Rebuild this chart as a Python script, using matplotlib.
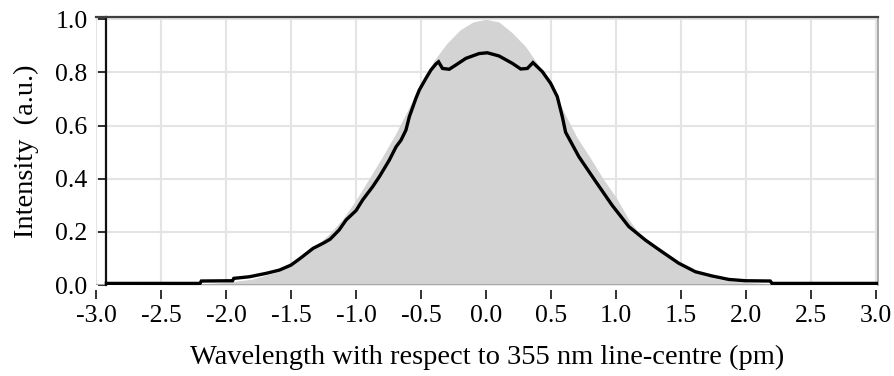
import matplotlib
matplotlib.use("Agg")
import matplotlib.pyplot as plt
from matplotlib.ticker import FixedLocator

# ---- data ----
measured_x = [-2.92, -2.2, -2.19, -1.95, -1.94, -1.82, -1.69, -1.59, -1.5, -1.43,
              -1.33, -1.25, -1.2, -1.13, -1.076, -1.0, -0.949, -0.872, -0.82, -0.744,
              -0.692, -0.654, -0.616, -0.59, -0.539, -0.513, -0.462, -0.424, -0.385,
              -0.365, -0.335, -0.283, -0.232, -0.155, -0.053, 0.01, 0.1, 0.203, 0.267,
              0.318, 0.361, 0.433, 0.497, 0.548, 0.587, 0.612, 0.714, 0.843, 0.97,
              1.098, 1.226, 1.354, 1.482, 1.61, 1.738, 1.866, 1.994, 2.186, 2.2, 3.015]
measured_y = [0.006, 0.006, 0.015, 0.016, 0.025, 0.031, 0.044, 0.056, 0.075, 0.10,
              0.138, 0.158, 0.172, 0.207, 0.245, 0.28, 0.32, 0.37, 0.408, 0.47,
              0.52, 0.545, 0.583, 0.633, 0.703, 0.734, 0.778, 0.809, 0.832,
              0.84, 0.815, 0.812, 0.828, 0.853, 0.871, 0.874, 0.862, 0.834, 0.813,
              0.815, 0.837, 0.803, 0.759, 0.709, 0.633, 0.575, 0.483, 0.39, 0.30,
              0.22, 0.169, 0.125, 0.082, 0.05, 0.034, 0.021, 0.016, 0.015, 0.006, 0.006]

model_x = [-2.92, -2.5, -2.2, -2.0, -1.8, -1.6, -1.5, -1.4, -1.3, -1.2, -1.1, -1.0,
           -0.9, -0.8, -0.7, -0.6, -0.5, -0.4, -0.3, -0.2, -0.1, 0.0,
           0.1, 0.2, 0.3, 0.4, 0.5, 0.6, 0.7, 0.8, 0.9, 1.0, 1.1, 1.2, 1.3, 1.4,
           1.5, 1.6, 1.8, 2.0, 2.2, 2.5, 3.015]
model_y = [0.0, 0.001, 0.004, 0.01, 0.022, 0.05, 0.075, 0.11, 0.15, 0.195, 0.25, 0.32,
           0.40, 0.48, 0.565, 0.66, 0.76, 0.845, 0.91, 0.96, 0.99, 1.0,
           0.99, 0.95, 0.9, 0.83, 0.755, 0.65, 0.555, 0.48, 0.40, 0.33, 0.245, 0.18,
           0.14, 0.105, 0.072, 0.048, 0.021, 0.01, 0.004, 0.001, 0.0]

x_ticks = [-3.0, -2.5, -2.0, -1.5, -1.0, -0.5, 0.0, 0.5, 1.0, 1.5, 2.0, 2.5, 3.0]
y_ticks = [0.0, 0.2, 0.4, 0.6, 0.8, 1.0]
x_label = "Wavelength with respect to 355 nm line-centre (pm)"
y_label = "Intensity  (a.u.)"

# ---- figure ----
plt.rcParams['font.family'] = ['Liberation Serif', 'DejaVu Serif']
W, H = 895, 376
fig = plt.figure(figsize=(W / 100, H / 100), dpi=100)
ax = fig.add_axes([96 / W, (H - 285) / H, (878 - 96) / W, (285 - 17.3) / H])

ax.fill_between(model_x, 0, model_y, color='#d3d3d3', lw=0, zorder=2)
ax.plot(measured_x, measured_y, color='black', lw=2.4, zorder=4,
        solid_joinstyle='miter')

ax.set_xlim(-3.0, 3.015)
ax.set_ylim(0.0, 1.0075)

ax.xaxis.set_major_locator(FixedLocator(x_ticks))
ax.yaxis.set_major_locator(FixedLocator(y_ticks))
ax.set_xticklabels([f"{v:.1f}" for v in x_ticks])
ax.set_yticklabels([f"{v:.1f}" for v in y_ticks])

ax.grid(True, color='#e4e4e4', lw=1.5, zorder=0)
ax.set_axisbelow(True)
fig.canvas.draw()
for t in ax.xaxis.get_major_ticks():
    if abs(t.get_loc() + 3.0) < 1e-9:
        t.gridline.set_visible(False)

ax.axhline(0.0, color='#a8a8a8', lw=1.5, zorder=3)

ax.spines['left'].set_position(('data', -2.926))
ax.spines['left'].set_color('#111111')
ax.spines['left'].set_linewidth(1.6)
ax.spines['top'].set_color('#404040')
ax.spines['top'].set_linewidth(1.6)
ax.spines['right'].set_color('#999999')
ax.spines['right'].set_linewidth(1.2)
ax.spines['bottom'].set_position(('outward', 3.6))
ax.spines['bottom'].set_visible(False)

ax.tick_params(axis='x', direction='out', length=6.5, width=1.3, color='#222222',
               pad=4.5, labelsize=18.5)
ax.tick_params(axis='y', direction='out', length=6.0, width=1.3, color='#222222',
               pad=7, labelsize=18.5)

ax.set_xlabel(x_label, fontsize=20.5, labelpad=13)
ax.set_ylabel(y_label, fontsize=20.5, labelpad=12)

fig.savefig("out.png", dpi=100)
